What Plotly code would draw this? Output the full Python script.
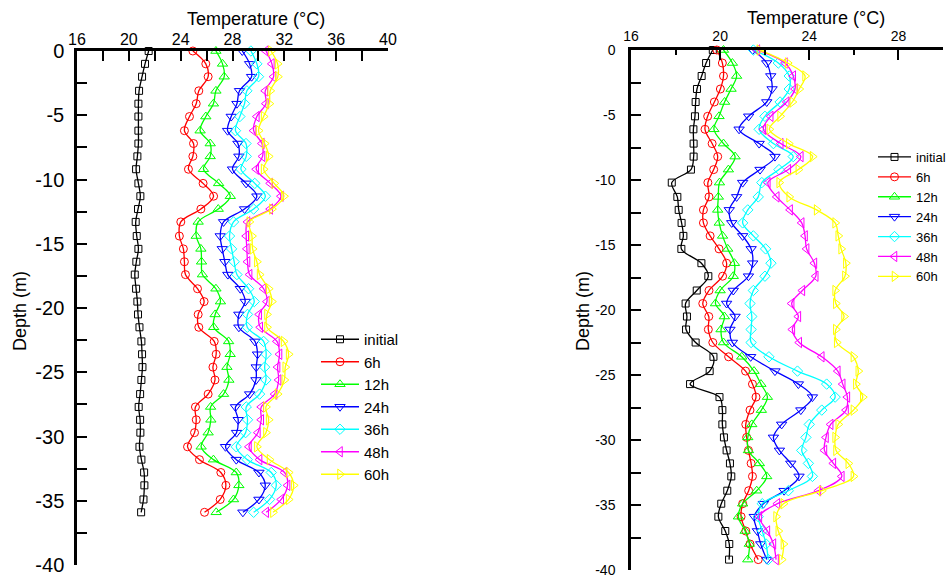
import plotly.graph_objects as go

FONT = "Arial, Liberation Sans, sans-serif"
W, H = 947, 576

series_names = ["initial", "6h", "12h", "24h", "36h", "48h", "60h"]
colors = ["#000000", "#FF0000", "#00FF00", "#0000FF", "#00FFFF", "#FF00FF", "#FFFF00"]
symbols = ["square-open", "circle-open", "triangle-up-open", "triangle-down-open",
           "diamond-open", "triangle-left-open", "triangle-right-open"]
sizes = [7, 8, 9, 9, 8, 9, 9]

# ---------------- left panel data ----------------
depth_left = [0, -1.0, -2.0, -3.1, -4.1, -5.1, -6.2, -7.2, -8.2, -9.2, -10.3, -11.3, -12.3,
              -13.3, -14.4, -15.4, -16.4, -17.4, -18.5, -19.5, -20.5, -21.5, -22.6, -23.6,
              -24.6, -25.6, -26.7, -27.7, -28.7, -29.7, -30.8, -31.8, -32.8, -33.8, -34.9, -35.9]

initial_left = [21.53, 21.25, 21.02, 20.79, 20.74, 20.74, 20.74, 20.74, 20.66, 20.56, 20.74, 20.89,
                20.71, 20.53, 20.61, 20.74, 20.58, 20.46, 20.56, 20.66, 20.71, 20.82, 20.97, 21.02,
                21.05, 20.97, 20.87, 20.76, 20.87, 20.89, 20.82, 20.97, 21.18, 21.2, 21.13, 20.95]
h6_left = [24.94, 25.94, 26.12, 25.4, 25.2, 24.68, 24.29, 24.99, 24.94, 24.6, 25.73, 26.54,
           25.56, 24.01, 23.9, 24.21, 24.29, 24.37, 25.3, 25.81, 25.35, 25.4, 26.59, 26.74,
           26.49, 26.65, 26.12, 25.14, 25.2, 25.07, 24.53, 25.45, 27.1, 27.49, 27.05, 25.84]
h12_left = [26.72, 27.23, 27.36, 26.72, 26.53, 25.94, 25.5, 26.28, 26.28, 25.76, 26.93, 27.83,
            26.9, 25.35, 25.2, 25.56, 25.61, 25.68, 26.72, 27.07, 26.66, 26.55, 27.7, 27.82,
            27.57, 27.72, 27.31, 26.31, 26.33, 26.12, 25.58, 26.53, 28.29, 28.49, 28.08, 26.74]
h24_left = [28.75, 29.32, 29.47, 28.54, 28.34, 27.9, 27.62, 28.42, 28.49, 28.0, 29.05, 29.88,
            28.93, 27.31, 27.05, 27.21, 27.41, 27.64, 28.6, 28.98, 28.49, 28.49, 29.73, 29.93,
            29.83, 29.81, 29.32, 28.23, 28.44, 28.31, 27.46, 28.29, 30.04, 30.53, 30.04, 28.8]
h36_left = [29.42, 29.88, 30.01, 29.11, 28.93, 28.57, 28.23, 29.04, 29.06, 28.65, 29.72, 30.54,
            29.63, 28.08, 27.77, 27.93, 28.13, 28.34, 29.24, 29.68, 29.16, 29.14, 30.4, 30.6,
            30.48, 30.58, 30.09, 29.06, 29.16, 29.01, 28.29, 29.14, 30.99, 31.38, 30.86, 29.63]
h48_left = [30.58, 31.04, 31.17, 30.53, 30.58, 29.88, 29.63, 30.27, 30.32, 29.83, 30.91, 31.74,
            30.91, 29.16, 29.06, 29.11, 29.16, 29.32, 30.4, 30.66, 30.06, 30.14, 31.43, 31.63,
            31.48, 31.56, 31.25, 30.22, 30.22, 29.96, 29.27, 30.09, 32.02, 32.25, 31.76, 30.6]
h60_left = [30.97, 31.48, 31.5, 30.91, 30.84, 30.4, 30.01, 30.48, 30.79, 30.4, 31.22, 31.97,
            31.04, 29.3, 29.5, 29.55, 29.88, 30.09, 30.79, 31.04, 30.66, 30.66, 31.94, 32.33,
            32.07, 32.0, 31.48, 30.58, 30.79, 30.58, 29.88, 30.86, 32.33, 32.72, 32.33, 31.12]

# ---------------- right panel data ----------------
depth_right = [0, -1.0, -2.0, -3.0, -4.0, -5.1, -6.1, -7.2, -8.2, -9.2, -10.2, -11.3, -12.3,
               -13.3, -14.3, -15.3, -16.4, -17.4, -18.5, -19.5, -20.5, -21.5, -22.5, -23.6,
               -24.7, -25.7, -26.7, -27.7, -28.8, -29.8, -30.8, -31.8, -32.8, -33.9, -34.9,
               -35.9, -37.0, -38.0, -39.2]

initial_right = [19.67, 19.37, 19.17, 18.96, 18.9, 18.87, 18.8, 18.81, 18.81, 18.69, 17.83, 18.08,
                 18.14, 18.27, 18.35, 18.26, 19.16, 19.47, 18.95, 18.45, 18.51, 18.47, 18.9, 19.7,
                 19.53, 18.65, 19.97, 20.1, 20.1, 20.17, 20.29, 20.44, 20.5, 20.32, 20.05, 19.92,
                 20.23, 20.41, 20.4]
h6_right = [19.85, 20.1, 20.15, 20.01, 19.74, 19.44, 19.32, 19.64, 19.89, 19.71, 19.45, 19.5,
            19.25, 19.25, 19.55, 19.95, 20.29, 20.11, 19.5, 19.22, 19.49, 19.47, 19.67, 20.38,
            21.14, 21.45, 21.61, 21.34, 21.15, 21.19, 21.27, 21.39, 21.45, 21.28, 21.01, 20.94,
            21.15, 21.34, 21.71]
h12_right = [20.15, 20.55, 20.74, 20.49, 20.2, 19.95, 19.72, 20.15, 20.67, 20.37, 19.97, 19.92,
             19.89, 19.96, 20.11, 20.34, 20.64, 20.59, 20.0, 19.79, 20.19, 20.04, 20.15, 20.97,
             21.52, 21.83, 22.12, 21.85, 21.42, 21.24, 21.27, 21.76, 22.09, 21.64, 21.01, 20.82,
             21.12, 21.31, 21.24]
h24_right = [21.46, 22.09, 22.27, 22.33, 22.09, 21.28, 20.85, 21.75, 22.46, 21.79, 21.01, 20.74,
             20.41, 20.52, 21.01, 21.39, 21.46, 21.27, 20.59, 20.29, 20.67, 20.44, 20.55, 21.37,
             22.46, 23.51, 24.14, 23.62, 22.76, 22.39, 22.66, 23.17, 23.54, 22.87, 21.94, 21.53,
             21.67, 21.82, 22.09]
h36_right = [21.49, 22.61, 23.1, 23.1, 22.69, 22.01, 21.75, 22.39, 23.28, 22.64, 21.87, 21.71,
             21.24, 21.01, 21.49, 22.04, 22.28, 22.01, 21.49, 21.34, 21.42, 21.39, 21.39, 22.19,
             23.47, 24.78, 25.16, 24.56, 24.0, 23.85, 23.66, 23.96, 24.14, 23.06, 21.89, 21.71,
             21.89, 22.06, 22.16]
h48_right = [21.67, 22.91, 23.28, 23.36, 22.99, 22.27, 21.94, 22.72, 23.62, 23.06, 22.14, 22.54,
             23.14, 23.66, 23.81, 23.88, 24.23, 24.29, 23.69, 23.21, 23.51, 23.24, 23.55, 24.56,
             25.28, 25.5, 25.71, 25.65, 24.96, 24.75, 24.68, 25.08, 25.46, 24.41, 22.57, 21.76,
             22.12, 22.39, 22.51]
h60_right = [21.76, 23.03, 23.81, 23.55, 23.24, 22.69, 22.21, 23.08, 24.15, 23.51, 22.65, 23.1,
             24.33, 25.16, 25.3, 25.43, 25.64, 25.6, 25.16, 25.19, 25.56, 25.19, 25.23, 25.98,
             26.2, 26.09, 26.4, 25.98, 25.3, 25.16, 25.2, 25.75, 25.98, 24.56, 22.84, 22.51,
             22.61, 22.84, 22.76]

# ---------------- ticks ----------------
x_ticks_left = [16, 20, 24, 28, 32, 36, 40]
x_minor_left = [18, 22, 26, 30, 34, 38]
x_ticks_right = [16, 20, 24, 28]
x_minor_right = [18, 22, 26]
y_ticks = [0, -5, -10, -15, -20, -25, -30, -35, -40]
y_tick_labels = ["0", "-5", "-10", "-15", "-20", "-25", "-30", "-35", "-40"]
y_minor = [-2.5, -7.5, -12.5, -17.5, -22.5, -27.5, -32.5, -37.5]

left_series = [initial_left, h6_left, h12_left, h24_left, h36_left, h48_left, h60_left]
right_series = [initial_right, h6_right, h12_right, h24_right, h36_right, h48_right, h60_right]

fig = go.Figure()
for i, name in enumerate(series_names):
    fig.add_trace(go.Scatter(
        x=left_series[i], y=depth_left, name=name, mode="lines+markers",
        line=dict(color=colors[i], width=1.3, shape="spline", smoothing=1),
        marker=dict(symbol=symbols[i], size=sizes[i], color=colors[i], line=dict(width=1, color=colors[i])),
        xaxis="x", yaxis="y", legend="legend", cliponaxis=False))
for i, name in enumerate(series_names):
    fig.add_trace(go.Scatter(
        x=right_series[i], y=depth_right, name=name, mode="lines+markers",
        line=dict(color=colors[i], width=1.3, shape="spline", smoothing=1),
        marker=dict(symbol=symbols[i], size=sizes[i], color=colors[i], line=dict(width=1, color=colors[i])),
        xaxis="x2", yaxis="y2", legend="legend2", cliponaxis=False))


def px_x(p):
    return p / W


def px_y(p):
    return (H - p) / H


common_axis = dict(showline=True, linecolor="black", linewidth=2.5, ticks="inside",
                   tickcolor="black", tickwidth=2, ticklen=10, showgrid=False, zeroline=False,
                   ticklabeloverflow="allow")

fig.update_layout(
    width=W, height=H,
    margin=dict(l=0, r=0, t=0, b=0, autoexpand=False),
    paper_bgcolor="white", plot_bgcolor="white",
    font=dict(family=FONT, color="black"),
    xaxis=dict(domain=[px_x(77), px_x(388)], range=[16, 40], side="top", anchor="y",
               tickmode="array", tickvals=x_ticks_left, ticktext=[str(v) for v in x_ticks_left],
               tickfont=dict(size=16), ticklabelstandoff=-3,
               minor=dict(tickmode="array", tickvals=x_minor_left, ticks="inside", ticklen=10,
                          tickwidth=2, tickcolor="black"),
               **common_axis),
    yaxis=dict(domain=[px_y(565), px_y(51)], range=[-40, 0], anchor="x",
               tickmode="array", tickvals=y_ticks, ticktext=y_tick_labels,
               tickfont=dict(size=20), ticklabelstandoff=6,
               minor=dict(tickmode="array", tickvals=y_minor, ticks="inside", ticklen=10,
                          tickwidth=2, tickcolor="black"),
               **common_axis),
    xaxis2=dict(domain=[px_x(631), px_x(943)], range=[16, 30], side="top", anchor="y2",
                tickmode="array", tickvals=x_ticks_right, ticktext=[str(v) for v in x_ticks_right],
                tickfont=dict(size=14), ticklabelstandoff=1,
                minor=dict(tickmode="array", tickvals=x_minor_right, ticks="inside", ticklen=5,
                           tickwidth=2, tickcolor="black"),
                **common_axis),
    yaxis2=dict(domain=[px_y(570), px_y(50)], range=[-40, 0], anchor="x2",
                tickmode="array", tickvals=y_ticks, ticktext=y_tick_labels,
                tickfont=dict(size=14), ticklabelstandoff=10,
                minor=dict(tickmode="array", tickvals=y_minor, ticks="inside", ticklen=10,
                           tickwidth=2, tickcolor="black"),
                **common_axis),
    legend=dict(x=px_x(316), y=px_y(323), xanchor="left", yanchor="top",
                font=dict(size=15, family=FONT), itemwidth=38, bgcolor="rgba(0,0,0,0)",
                borderwidth=0, tracegroupgap=0),
    legend2=dict(x=px_x(873), y=px_y(142), xanchor="left", yanchor="top",
                 font=dict(size=13, family=FONT), itemwidth=33, bgcolor="rgba(0,0,0,0)",
                 borderwidth=0, tracegroupgap=0),
    showlegend=True,
    annotations=[
        dict(text="Temperature (°C)", x=px_x(256), y=px_y(19), xref="paper", yref="paper",
             showarrow=False, font=dict(size=18), xanchor="center", yanchor="middle"),
        dict(text="Depth (m)", x=px_x(20), y=px_y(311), xref="paper", yref="paper",
             showarrow=False, font=dict(size=18), textangle=-90, xanchor="center", yanchor="middle"),
        dict(text="Temperature (°C)", x=px_x(816), y=px_y(18), xref="paper", yref="paper",
             showarrow=False, font=dict(size=18), xanchor="center", yanchor="middle"),
        dict(text="Depth (m)", x=px_x(583), y=px_y(311), xref="paper", yref="paper",
             showarrow=False, font=dict(size=18), textangle=-90, xanchor="center", yanchor="middle"),
    ],
)

fig.write_html("out.html", config={"displayModeBar": False},
               post_script="document.body.style.margin='0';document.body.style.padding='0';"
                           "document.body.style.overflow='hidden';")
